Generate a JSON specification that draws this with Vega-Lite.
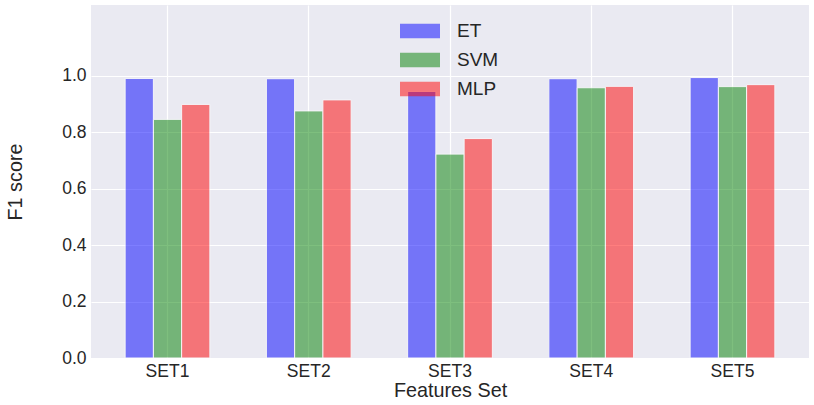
{
  "$schema": "https://vega.github.io/schema/vega-lite/v6.json",
  "description": "F1 score by features set for ET, SVM and MLP classifiers.",
  "background": "white",
  "autosize": "none",
  "padding": {"left": 91, "top": 5, "right": 5, "bottom": 47},
  "width": 718,
  "height": 353,
  "config": {
    "font": "Liberation Sans",
    "view": {"fill": "#EAEAF2", "stroke": null},
    "axis": {
      "labelFont": "Liberation Sans",
      "titleFont": "Liberation Sans",
      "labelColor": "#262626",
      "titleColor": "#262626",
      "titleFontWeight": "normal",
      "labelFontSize": 17.5,
      "titleFontSize": 19.8,
      "domain": false,
      "ticks": false,
      "gridColor": "white",
      "gridWidth": 1.2,
      "gridOpacity": 1
    }
  },
  "data": {
    "values": [
      {"set": "SET1", "model": "ET", "f1": 0.990},
      {"set": "SET1", "model": "SVM", "f1": 0.845},
      {"set": "SET1", "model": "MLP", "f1": 0.898},
      {"set": "SET2", "model": "ET", "f1": 0.989},
      {"set": "SET2", "model": "SVM", "f1": 0.875},
      {"set": "SET2", "model": "MLP", "f1": 0.914},
      {"set": "SET3", "model": "ET", "f1": 0.944},
      {"set": "SET3", "model": "SVM", "f1": 0.722},
      {"set": "SET3", "model": "MLP", "f1": 0.777},
      {"set": "SET4", "model": "ET", "f1": 0.989},
      {"set": "SET4", "model": "SVM", "f1": 0.957},
      {"set": "SET4", "model": "MLP", "f1": 0.962},
      {"set": "SET5", "model": "ET", "f1": 0.993},
      {"set": "SET5", "model": "SVM", "f1": 0.961},
      {"set": "SET5", "model": "MLP", "f1": 0.968}
    ]
  },
  "mark": {"type": "bar", "opacity": 0.5, "stroke": "white", "strokeWidth": 1},
  "encoding": {
    "x": {
      "field": "set",
      "type": "nominal",
      "title": "Features Set",
      "scale": {"paddingInner": 0.4, "paddingOuter": 0.2416},
      "axis": {
        "labelAngle": 0,
        "labelPadding": 4,
        "titlePadding": 1,
        "grid": true,
        "bandPosition": 0.5
      }
    },
    "xOffset": {
      "field": "model",
      "type": "nominal",
      "sort": ["ET", "SVM", "MLP"],
      "scale": {"paddingInner": 0, "paddingOuter": 0}
    },
    "y": {
      "field": "f1",
      "type": "quantitative",
      "title": "F1 score",
      "scale": {"domain": [0, 1.25], "nice": false},
      "axis": {
        "values": [0, 0.2, 0.4, 0.6, 0.8, 1.0],
        "format": ".1f",
        "labelPadding": 5,
        "titlePadding": 36
      }
    },
    "color": {
      "field": "model",
      "type": "nominal",
      "sort": ["ET", "SVM", "MLP"],
      "scale": {"domain": ["ET", "SVM", "MLP"], "range": ["#0000FF", "#008000", "#FF0000"]},
      "legend": {
        "title": null,
        "orient": "none",
        "legendX": 319,
        "legendY": 16,
        "padding": 0,
        "symbolType": "M-2,-0.733H2V0.733H-2Z",
        "symbolSize": 400,
        "symbolOpacity": 0.5,
        "symbolStrokeWidth": 0,
        "labelOffset": 27,
        "rowPadding": 9,
        "labelFontSize": 19,
        "labelColor": "#262626",
        "labelFont": "Liberation Sans"
      }
    }
  }
}
